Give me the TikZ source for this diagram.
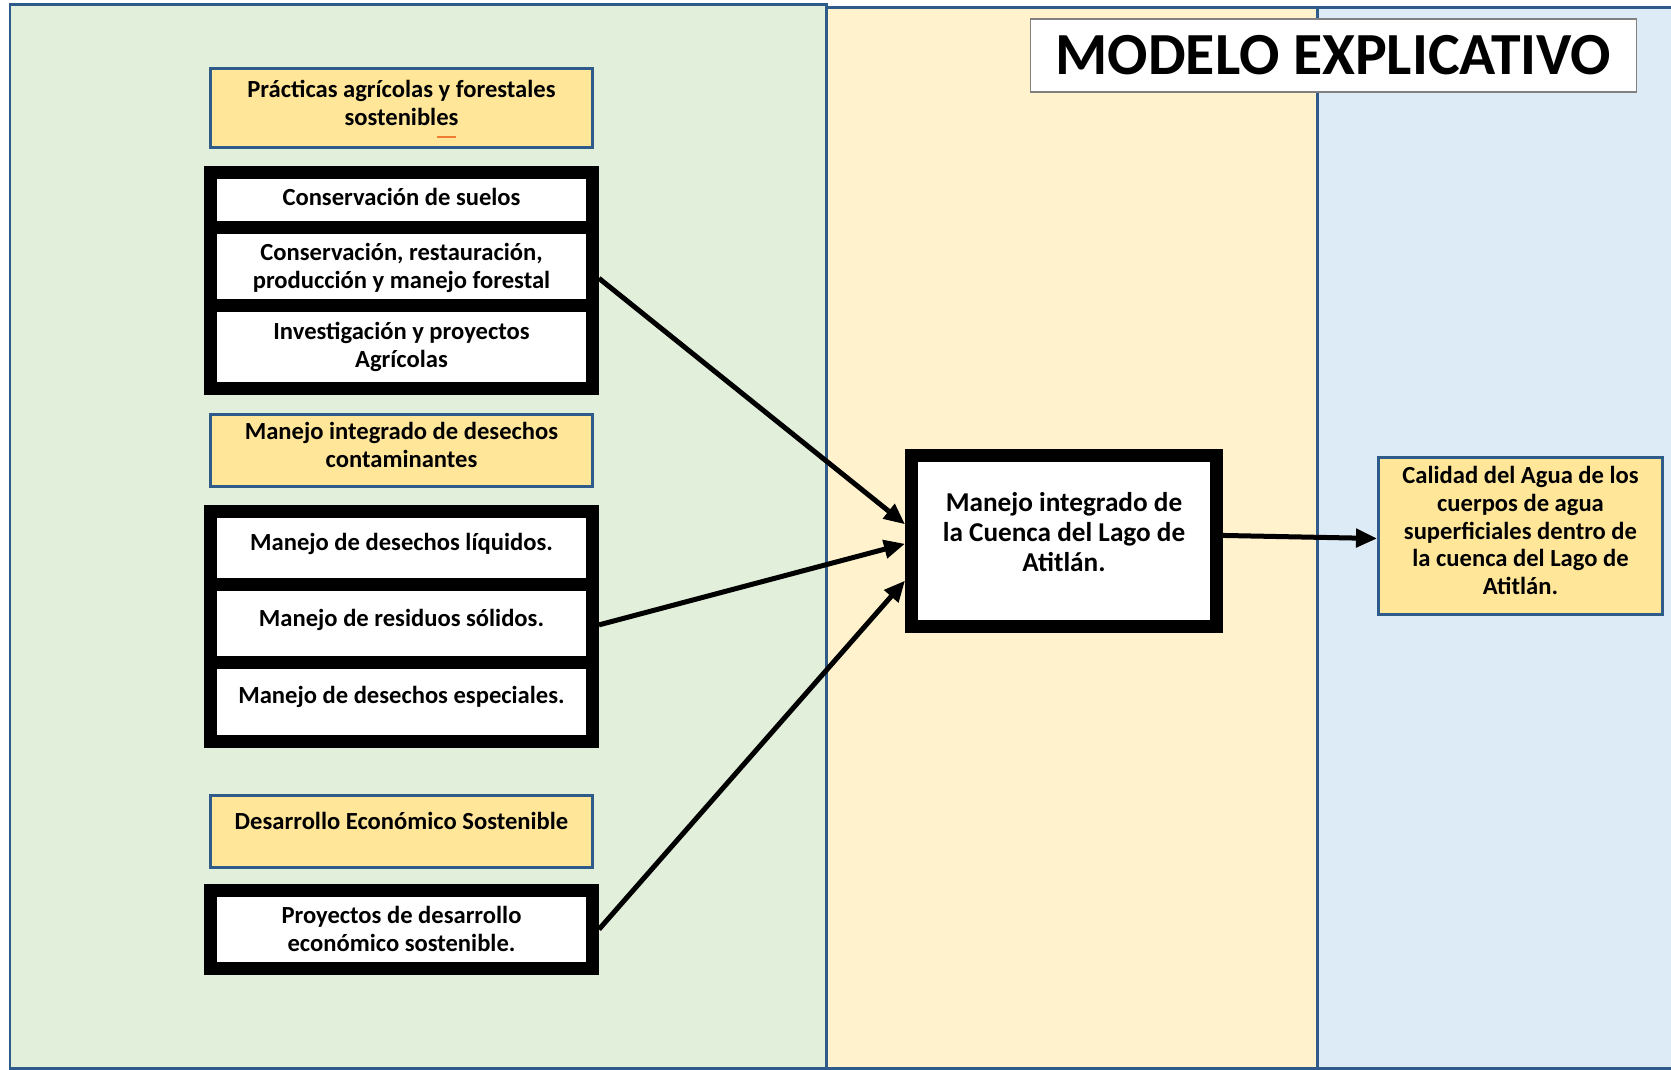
\documentclass[tikz,border=0pt]{standalone}
\usepackage{fontspec}
\setmainfont{Carlito}
\usetikzlibrary{positioning,arrows.meta}
\definecolor{greenbg}{HTML}{E2EFDA}
\definecolor{yellowbg}{HTML}{FFF2CC}
\definecolor{bluebg}{HTML}{DDEBF7}
\definecolor{frameblue}{HTML}{2E5B8A}
\definecolor{headfill}{HTML}{FFE699}
\definecolor{dashorange}{HTML}{ED7D31}
\begin{document}
\begin{tikzpicture}[x=0.02cm,y=-0.02cm,node distance=0.34cm]
        \tikzset{
            panel/.style={draw=frameblue, line width=0.06cm},
            head/.style={draw=frameblue, fill=headfill, line width=0.06cm, align=center, text depth=0.22cm,
                minimum width=7.64cm, inner sep=2pt, font=\bfseries\fontsize{14}{15.9}\selectfont},
            cell/.style={draw=black, fill=white, line width=0.26cm, align=center,
                minimum width=7.64cm, inner sep=2pt, font=\bfseries\fontsize{14}{15.9}\selectfont},
            oneline/.style={text depth=0.28cm},
            link/.style={-{Triangle[length=0.42cm, width=0.36cm]}, line width=0.1cm}
        }
        \useasboundingbox (0,0) rectangle (1671,1070);
        \fill[white] (0,0) rectangle (1671,1070);
        % columns
        \draw[panel, fill=greenbg] (10,5) rectangle (826,1068);
        \draw[panel, fill=yellowbg] (826,8) rectangle (1317,1068);
        \draw[panel, fill=bluebg] (1317,8) rectangle (1676,1068);
        \node[draw=gray, fill=white, line width=0.6pt, minimum width=12.14cm, minimum height=1.46cm,
            font=\bfseries\fontsize{34}{40}\selectfont] (title) at (1333.5,55.5) {MODELO EXPLICATIVO};
        % left column
        \node[head, minimum height=1.58cm] (prac) at (401.5,108) {Prácticas agrícolas y forestales\\sostenibles};
        \draw[dashorange, line width=0.04cm] (437,137) -- (456,137);
        \node[cell, minimum height=1.14cm, text depth=0.15cm] (suelos) [below=of prac] {Conservación de suelos};
        \node[cell, minimum height=1.62cm] (forestal) [below=-0.30cm of suelos] {Conservación, restauración,\\producción y manejo forestal};
        \node[cell, minimum height=1.66cm] (agri) [below=-0.32cm of forestal] {Investigación y proyectos\\Agrícolas};
        \node[head, minimum height=1.44cm] (desechos) [below=0.36cm of agri] {Manejo integrado de desechos\\contaminantes};
        \node[cell, oneline, minimum height=1.48cm] (liquidos) [below=of desechos] {Manejo de desechos líquidos.};
        \node[cell, oneline, minimum height=1.62cm] (solidos) [below=-0.28cm of liquidos] {Manejo de residuos sólidos.};
        \node[cell, oneline, minimum height=1.58cm] (especiales) [below=-0.32cm of solidos] {Manejo de desechos especiales.};
        \node[head, minimum height=1.44cm, text depth=0.4cm] (desarrollo) [below=0.92cm of especiales] {Desarrollo Económico Sostenible};
        \node[cell, minimum height=1.56cm] (proyectos) [below=0.30cm of desarrollo] {Proyectos de desarrollo\\económico sostenible.};
        % middle and right
        \node[cell, minimum width=6.1cm, minimum height=3.42cm, text depth=0.36cm,
            font=\bfseries\fontsize{15.5}{17}\selectfont] (cuenca) at (1064,541) {Manejo integrado de\\la Cuenca del Lago de\\Atitlán.};
        \node[head, minimum width=5.68cm, minimum height=3.14cm,
            font=\bfseries\fontsize{14}{15.7}\selectfont] (agua) at (1520.5,536) {Calidad del Agua de los\\cuerpos de agua\\superficiales dentro de\\la cuenca del Lago de\\Atitlán.};
        \draw[link] (forestal.-3) -- (cuenca.174);
        \draw[link] (solidos.east) -- (cuenca.181);
        \draw[link] (proyectos.east) -- (cuenca.194);
        \draw[link] (cuenca.2) -- (agua.181);
\end{tikzpicture}
\end{document}
